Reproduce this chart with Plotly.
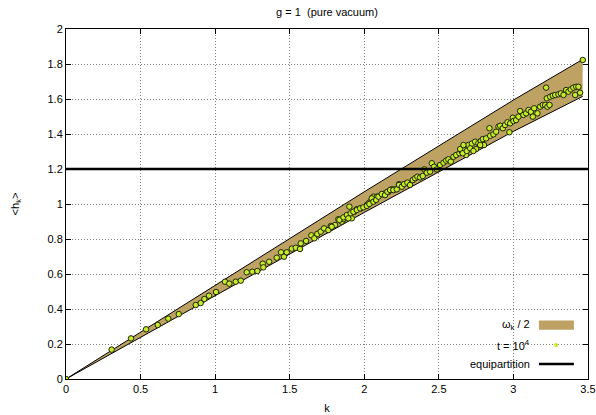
import plotly.graph_objects as go

# band omega_k / 2 (edges)
band_k = [0.0, 1.0, 2.0, 3.0, 3.464]
band_upper = [0.0, 0.536, 1.07, 1.594, 1.826]
band_lower = [0.0, 0.477, 0.952, 1.415, 1.615]

# equipartition level
equip_level = 1.2
equip_k = [0.0, 3.5]

# measured <h_k> at t = 10^4
pts_k = [0.0, 0.306, 0.436, 0.537, 0.615, 0.686, 0.756, 0.87, 0.903, 0.928, 0.959,
         1.006, 1.066, 1.095, 1.138, 1.172, 1.212, 1.249, 1.283, 1.319, 1.323, 1.362,
         1.413, 1.442, 1.462, 1.48, 1.514, 1.541, 1.569, 1.574, 1.61, 1.645, 1.665,
         1.685, 1.708, 1.73, 1.759, 1.775, 1.804, 1.826,
         1.849, 1.86, 1.883, 1.9, 1.916, 1.932, 1.95, 1.977, 2.017, 2.034, 2.052,
         2.061, 2.084, 2.117, 2.139, 2.162, 2.184, 2.207, 2.233,
         1.782, 1.833, 1.86, 1.883, 1.893, 1.909, 1.927, 1.95, 1.972, 1.994, 2.017,
         2.034, 2.05, 2.061, 2.079, 2.095, 2.117, 2.139, 2.155, 2.173, 2.195, 2.218,
         2.233, 2.252, 2.267, 2.289, 2.307, 2.325, 2.341, 2.356, 2.374, 2.392, 2.403,
         2.419, 2.441, 2.453, 2.468, 2.486, 2.508, 2.531, 2.549, 2.564, 2.58, 2.598,
         2.616, 2.638, 2.654, 2.669, 2.683, 2.698,
         2.643, 2.66, 2.687, 2.698, 2.721, 2.743, 2.75, 2.765, 2.781, 2.795, 2.803,
         2.817, 2.839, 2.844, 2.866, 2.884, 2.9, 2.911, 2.929, 2.944, 2.96, 2.973,
         2.978, 2.996, 3.0, 3.018, 3.034, 3.045, 3.067, 3.085, 3.101, 3.117, 3.13,
         3.139, 3.161, 3.179, 3.197, 3.213, 3.228, 3.242, 3.224, 3.219, 3.246, 3.264,
         3.28, 3.302, 3.318, 3.336, 3.353, 3.369, 3.385, 3.402, 3.414, 3.421, 3.436,
         3.447, 3.465,
         2.665, 2.71, 2.732, 2.777]
pts_h = [0.0, 0.168, 0.232, 0.284, 0.309, 0.345, 0.371, 0.423, 0.434, 0.457, 0.476,
         0.497, 0.556, 0.545, 0.556, 0.562, 0.61, 0.613, 0.617, 0.659, 0.638, 0.67,
         0.693, 0.724, 0.699, 0.724, 0.745, 0.75, 0.743, 0.775, 0.789, 0.821, 0.804,
         0.829, 0.842, 0.861, 0.851, 0.874, 0.88, 0.913,
         0.899, 0.914, 0.927, 0.985, 0.918, 0.956, 0.97, 0.975, 0.994, 1.008, 1.027,
         1.042, 1.042, 1.055, 1.061, 1.07, 1.084, 1.084, 1.113,
         0.87, 0.909, 0.924, 0.937, 0.918, 0.947, 0.956, 0.966, 0.975, 0.981, 0.989,
         1.0, 1.032, 1.013, 1.023, 1.042, 1.057, 1.051, 1.07, 1.08, 1.08, 1.084,
         1.109, 1.099, 1.114, 1.122, 1.109, 1.137, 1.147, 1.156, 1.152, 1.16, 1.198,
         1.179, 1.185, 1.233, 1.213, 1.198, 1.223, 1.236, 1.248, 1.255, 1.242, 1.27,
         1.28, 1.29, 1.299, 1.309, 1.28, 1.318,
         1.314, 1.29, 1.303, 1.337, 1.345, 1.356, 1.314, 1.347, 1.36, 1.371, 1.337,
         1.375, 1.433, 1.39, 1.398, 1.413, 1.442, 1.447, 1.433, 1.451, 1.467, 1.41,
         1.461, 1.493, 1.474, 1.48, 1.499, 1.531, 1.509, 1.518, 1.537, 1.527, 1.499,
         1.547, 1.518, 1.556, 1.566, 1.566, 1.556, 1.566, 1.604, 1.665, 1.613, 1.619,
         1.623, 1.627, 1.632, 1.623, 1.651, 1.642, 1.655, 1.665, 1.623, 1.67, 1.67,
         1.636, 1.823,
         1.337, 1.318, 1.303, 1.337]

x_ticks = [0, 0.5, 1, 1.5, 2, 2.5, 3, 3.5]
x_tick_labels = ["0", "0.5", "1", "1.5", "2", "2.5", "3", "3.5"]
y_ticks = [0, 0.2, 0.4, 0.6, 0.8, 1, 1.2, 1.4, 1.6, 1.8, 2]
y_tick_labels = ["0", "0.2", "0.4", "0.6", "0.8", "1", "1.2", "1.4", "1.6", "1.8", "2"]

BAND = "#bda264"
DOT = "#c6ea2e"
FONT = "Liberation Sans, Arial, sans-serif"

fig = go.Figure()
fig.add_trace(go.Scatter(x=band_k, y=band_lower, mode="lines",
                         line=dict(color="black", width=1), showlegend=False))
fig.add_trace(go.Scatter(x=band_k, y=band_upper, mode="lines", fill="tonexty",
                         fillcolor=BAND, line=dict(color="black", width=1),
                         showlegend=False))
fig.add_trace(go.Scatter(x=pts_k, y=pts_h, mode="markers",
                         marker=dict(size=5.5, color=DOT,
                                     line=dict(color="#1e2400", width=1)),
                         showlegend=False))
fig.add_trace(go.Scatter(x=equip_k, y=[equip_level, equip_level], mode="lines",
                         line=dict(color="black", width=2.5), showlegend=False))

axis_common = dict(showline=True, linecolor="black", linewidth=1, mirror="ticks",
                   ticks="inside", ticklen=5, tickcolor="black", automargin=False,
                   showgrid=True, gridcolor="#808080", gridwidth=1,
                   griddash="1px,2px",
                   zeroline=False, tickfont=dict(family=FONT, size=11, color="black"))

fig.update_xaxes(range=[0, 3.5], tickvals=x_ticks, ticktext=x_tick_labels,
                 title=dict(text="k", font=dict(family=FONT, size=11, color="black"),
                            standoff=10),
                 **axis_common)
fig.update_yaxes(range=[0, 2], tickvals=y_ticks, ticktext=y_tick_labels,
                 title=dict(text="&lt;h<sub>k</sub>&gt;",
                            font=dict(family=FONT, size=11, color="black"),
                            standoff=25),
                 **axis_common)

# legend (bottom right, gnuplot style)
rows = [0.154, 0.097, 0.043]
labels = ["ω<sub>k</sub> / 2", "t = 10<sup>4</sup>", "equipartition"]
annotations = []
for yv, lab in zip(rows, labels):
    annotations.append(dict(xref="paper", yref="paper", x=0.893, y=yv, text=lab,
                            showarrow=False, xanchor="right", yanchor="middle",
                            font=dict(family=FONT, size=11, color="black")))
shapes = [
    dict(type="rect", xref="paper", yref="paper", x0=0.906, x1=0.973,
         y0=rows[0] - 0.013, y1=rows[0] + 0.013, fillcolor=BAND,
         line=dict(width=0)),
    dict(type="circle", xref="paper", yref="paper", x0=0.935, x1=0.943,
         y0=rows[1] - 0.006, y1=rows[1] + 0.006, fillcolor=DOT,
         line=dict(width=0)),
    dict(type="line", xref="paper", yref="paper", x0=0.906, x1=0.973,
         y0=rows[2], y1=rows[2], line=dict(color="black", width=2.5)),
]

fig.update_layout(width=596, height=415, margin=dict(l=66, r=8, t=29, b=36),
                  paper_bgcolor="white", plot_bgcolor="white",
                  title=dict(text="g = 1  (pure vacuum)", x=0.5, xref="paper",
                             xanchor="center", y=1 - 12 / 415, yref="container",
                             yanchor="middle", automargin=False,
                             font=dict(family=FONT, size=11, color="black")),
                  annotations=annotations, shapes=shapes, showlegend=False,
                  font=dict(family=FONT, size=11, color="black"))

# remove the default page margin so the figure sits at the window's origin
fig.write_html("out.html", config={"displayModeBar": False},
               post_script="document.body.style.margin='0px';")
